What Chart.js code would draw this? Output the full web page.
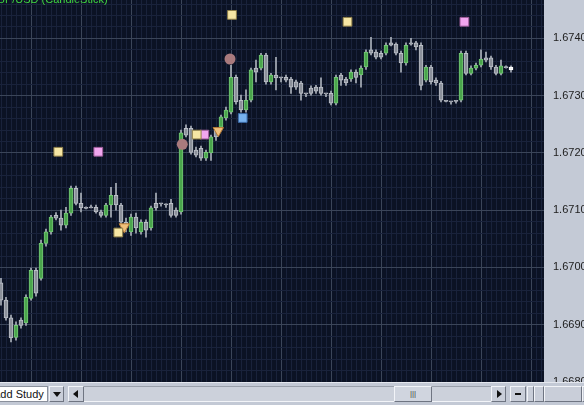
<!DOCTYPE html>
<html><head><meta charset="utf-8">
<script src="https://cdn.jsdelivr.net/npm/chart.js@4"></script>
<style>
html,body{margin:0;padding:0;width:584px;height:405px;overflow:hidden;background:#c4cad6;font-family:"Liberation Sans",Arial,sans-serif;}
#wrap{position:relative;width:584px;height:405px;overflow:hidden;}
#c{position:absolute;left:0;top:0;}
#title{position:absolute;left:-11px;top:-7px;color:#3fd43f;font-size:11px;white-space:nowrap;}
#bar{position:absolute;left:0;top:382px;width:584px;height:23px;background:#c3c9d5;border-top:1px solid #e4e7ee;box-sizing:border-box;}
#study{position:absolute;left:0;top:3px;width:48px;height:16px;background:#fff;border:1px solid #8a909c;border-left:none;box-sizing:border-box;overflow:hidden;font-size:11px;line-height:14px;color:#111;white-space:nowrap;}
#study span{position:relative;left:-7px;}
.btn{position:absolute;top:3px;height:16px;background:#c9ced9;border:1px solid;border-color:#f2f4f8 #6f7582 #6f7582 #f2f4f8;box-sizing:border-box;}
.tri{position:absolute;width:0;height:0;}
#track{position:absolute;left:84px;top:3px;width:407px;height:16px;background:#ccd1db;border-top:1px solid #9aa0ab;border-bottom:1px solid #f2f4f8;box-sizing:border-box;}
#thumb{position:absolute;left:394px;top:3px;width:38px;height:16px;background:#d0d5df;border:1px solid;border-color:#f2f4f8 #6f7582 #6f7582 #f2f4f8;box-sizing:border-box;font-size:8px;line-height:13px;text-align:center;color:#444;letter-spacing:0px;}
</style>
</head><body>
<div id="wrap">
<canvas id="c" width="584" height="405"></canvas>
<div id="title">GBP/USD (CandleStick)</div>
<div id="bar">
  <div id="study"><span>Add Study</span></div>
  <div class="btn" style="left:49px;width:15px"><div class="tri" style="left:3px;top:5px;border-left:4px solid transparent;border-right:4px solid transparent;border-top:5px solid #111;"></div></div>
  <div class="btn" style="left:68px;width:16px"><div class="tri" style="left:4px;top:3px;border-top:4px solid transparent;border-bottom:4px solid transparent;border-right:5px solid #111;"></div></div>
  <div id="track"></div>
  <div id="thumb">|||</div>
  <div class="btn" style="left:491px;width:15px"><div class="tri" style="left:5px;top:3px;border-top:4px solid transparent;border-bottom:4px solid transparent;border-left:5px solid #111;"></div></div>
  <div class="btn" style="left:510px;width:16px"><div style="position:absolute;left:4px;top:6px;width:6px;height:2px;background:#111;"></div></div>
  <div class="btn" style="left:527px;width:7px"></div>
  <div class="btn" style="left:534px;width:10px"></div>
  <div class="btn" style="left:544px;width:38px"></div>
  <div class="btn" style="left:582px;width:16px"><div style="position:absolute;left:1px;top:6px;width:6px;height:2px;background:#111;"></div></div>
</div>
</div>
<script>
// OHLC values (GBP/USD), one per candle, left to right
const opens  = [1.66973,1.66943,1.66912,1.66878,1.66908,1.66903,1.66946,1.66995,1.66981,1.67042,1.67062,1.67091,1.67086,1.67074,1.67095,1.67138,1.67112,1.67105,1.67105,1.67105,1.67097,1.67091,1.67109,1.67126,1.67109,1.67079,1.67062,1.67088,1.67062,1.67079,1.67069,1.67112,1.67112,1.67111,1.67112,1.67100,1.67097,1.67243,1.67243,1.67205,1.67208,1.67191,1.67200,1.67240,1.67245,1.67261,1.67271,1.67332,1.67292,1.67275,1.67292,1.67348,1.67348,1.67371,1.67324,1.67336,1.67332,1.67332,1.67329,1.67324,1.67322,1.67304,1.67313,1.67315,1.67315,1.67304,1.67304,1.67287,1.67336,1.67329,1.67329,1.67341,1.67336,1.67350,1.67380,1.67376,1.67374,1.67374,1.67392,1.67390,1.67374,1.67357,1.67392,1.67392,1.67388,1.67327,1.67350,1.67327,1.67322,1.67292,1.67290,1.67292,1.67292,1.67374,1.67339,1.67348,1.67353,1.67366,1.67366,1.67350,1.67339,1.67350,1.67350];
const highs  = [1.66981,1.66948,1.66917,1.66905,1.66912,1.66952,1.66999,1.66999,1.67048,1.67067,1.67091,1.67096,1.67100,1.67105,1.67142,1.67142,1.67130,1.67106,1.67109,1.67109,1.67100,1.67112,1.67140,1.67147,1.67112,1.67086,1.67093,1.67095,1.67083,1.67083,1.67107,1.67130,1.67112,1.67111,1.67119,1.67104,1.67240,1.67249,1.67247,1.67210,1.67212,1.67205,1.67231,1.67243,1.67266,1.67280,1.67353,1.67336,1.67301,1.67310,1.67348,1.67362,1.67374,1.67374,1.67339,1.67367,1.67332,1.67336,1.67332,1.67327,1.67325,1.67304,1.67317,1.67318,1.67331,1.67304,1.67308,1.67336,1.67339,1.67332,1.67345,1.67345,1.67352,1.67380,1.67402,1.67380,1.67378,1.67392,1.67402,1.67392,1.67378,1.67392,1.67400,1.67395,1.67392,1.67353,1.67353,1.67331,1.67325,1.67292,1.67290,1.67292,1.67378,1.67378,1.67352,1.67357,1.67380,1.67376,1.67369,1.67353,1.67362,1.67352,1.67352];
const lows   = [1.66934,1.66908,1.66870,1.66873,1.66894,1.66899,1.66943,1.66950,1.66978,1.67037,1.67058,1.67083,1.67065,1.67069,1.67091,1.67109,1.67097,1.67102,1.67104,1.67095,1.67088,1.67088,1.67088,1.67100,1.67074,1.67062,1.67056,1.67060,1.67058,1.67053,1.67065,1.67100,1.67107,1.67105,1.67088,1.67088,1.67093,1.67228,1.67198,1.67193,1.67187,1.67187,1.67187,1.67222,1.67240,1.67257,1.67268,1.67285,1.67271,1.67271,1.67289,1.67324,1.67345,1.67320,1.67320,1.67310,1.67324,1.67324,1.67304,1.67311,1.67292,1.67298,1.67301,1.67304,1.67301,1.67298,1.67284,1.67284,1.67318,1.67318,1.67325,1.67322,1.67315,1.67346,1.67371,1.67364,1.67364,1.67371,1.67387,1.67371,1.67341,1.67353,1.67388,1.67380,1.67310,1.67324,1.67320,1.67318,1.67289,1.67289,1.67285,1.67287,1.67289,1.67336,1.67336,1.67345,1.67350,1.67359,1.67346,1.67336,1.67336,1.67348,1.67341];
const closes = [1.66943,1.66912,1.66877,1.66899,1.66899,1.66948,1.66995,1.66955,1.67042,1.67062,1.67088,1.67086,1.67074,1.67095,1.67138,1.67112,1.67104,1.67103,1.67104,1.67097,1.67091,1.67109,1.67126,1.67109,1.67079,1.67069,1.67088,1.67069,1.67079,1.67065,1.67104,1.67104,1.67111,1.67109,1.67091,1.67091,1.67235,1.67231,1.67201,1.67196,1.67191,1.67201,1.67228,1.67228,1.67263,1.67275,1.67332,1.67289,1.67275,1.67292,1.67345,1.67341,1.67371,1.67324,1.67336,1.67331,1.67331,1.67327,1.67315,1.67315,1.67304,1.67303,1.67304,1.67308,1.67304,1.67303,1.67287,1.67332,1.67327,1.67322,1.67341,1.67332,1.67348,1.67376,1.67374,1.67367,1.67367,1.67388,1.67388,1.67374,1.67357,1.67388,1.67390,1.67385,1.67318,1.67350,1.67324,1.67322,1.67292,1.67290,1.67289,1.67290,1.67374,1.67339,1.67348,1.67353,1.67364,1.67362,1.67350,1.67339,1.67352,1.67349,1.67345];

// study markers: [candle position, price]
const yellowMarks   = [[11.46,1.67202],[23.46,1.67061],[39.14,1.67232],[46.2,1.67441],[69.3,1.67429]];
const pinkMarks     = [[19.46,1.67202],[40.66,1.67232],[92.68,1.67429]];
const blueMarks     = [[48.34,1.67261]];
const circleMarks   = [[36.26,1.67215],[45.8,1.67364]];
const triangleMarks = [[24.66,1.67071],[43.46,1.67239]];

// axis ranges and tick spacing
const priceMin = 1.6680, priceMax = 1.67467, priceStep = 0.0001, priceLabelStep = 0.0010;
const slotMin = -0.2, slotMax = 108.6;

const lastIdx = closes.length - 1;
const toPts = arr => arr.map(([x, y]) => ({x, y}));

const bgPlugin = {
  id: 'bg',
  beforeDraw(chart) {
    const {ctx, chartArea: a, width, height} = chart;
    ctx.save();
    ctx.fillStyle = '#c4cad6';
    ctx.fillRect(0, 0, width, height);
    ctx.fillStyle = '#0b1224';
    ctx.fillRect(a.left, a.top, a.right - a.left, a.bottom - a.top);
    ctx.restore();
  }
};

const bodyFill = c => c.dataIndex === lastIdx ? '#eeeeee' : (closes[c.dataIndex] >= opens[c.dataIndex] ? '#4aa54c' : '#8c919b');
const bodyEdge = c => c.dataIndex === lastIdx ? '#ffffff' : (closes[c.dataIndex] >= opens[c.dataIndex] ? '#76c877' : '#bcc0c8');

const xGridColor = c => {
  if (!c || !c.tick) return 'rgba(0,0,0,0)';
  return Math.round(c.tick.value - 0.5) % 10 === 6 ? '#3b4559' : '#19223b';
};
const yGridColor = c => {
  if (!c || !c.tick) return 'rgba(0,0,0,0)';
  const i = Math.round((c.tick.value - priceMin) / priceStep);
  return i % 10 === 0 ? '#3b4559' : (i % 2 === 0 ? '#19223b' : 'rgba(0,0,0,0)');
};

new Chart(document.getElementById('c'), {
  type: 'bar',
  data: {
    datasets: [
      {type:'scatter', data: toPts(circleMarks), pointStyle:'circle', pointRadius:5.5, backgroundColor:'#a97a7d', borderColor:'#a97a7d', borderWidth:0, order:0},
      {type:'scatter', data: toPts(yellowMarks), pointStyle:'rect', pointRadius:6.2, backgroundColor:'#f6e6a4', borderColor:'#8f7f48', borderWidth:1, order:0},
      {type:'scatter', data: toPts(pinkMarks), pointStyle:'rect', pointRadius:6.2, backgroundColor:'#f1a6ef', borderColor:'#9c5c98', borderWidth:1, order:0},
      {type:'scatter', data: toPts(blueMarks), pointStyle:'rect', pointRadius:6.2, backgroundColor:'#78b2ee', borderColor:'#3b6aa6', borderWidth:1, order:0},
      {type:'scatter', data: toPts(triangleMarks), pointStyle:'triangle', rotation:180, pointRadius:6, backgroundColor:'#f1c07c', borderColor:'#b97d35', borderWidth:1, order:0},
      {label:'body', data: opens.map((o, i) => ({x:i, y:[o, closes[i]]})), backgroundColor: bodyFill, borderColor: bodyEdge, borderWidth:1, borderSkipped:false, barThickness:4, grouped:false, minBarLength:1, order:5},
      {label:'wick', data: lows.map((l, i) => ({x:i, y:[l, highs[i]]})), backgroundColor:'#aab0b9', borderWidth:0, barThickness:1, grouped:false, minBarLength:1, order:6}
    ]
  },
  options: {
    responsive:false, animation:false, devicePixelRatio:1,
    layout:{autoPadding:false, padding:{left:0, right:0, top:0, bottom:23}},
    plugins:{legend:{display:false}, tooltip:{enabled:false}, title:{display:false}},
    scales:{
      x:{
        type:'linear', min:slotMin, max:slotMax, offset:false,
        afterBuildTicks(s){ const t=[]; for(let k=-1;k<=108;k++) t.push({value:k+0.5}); s.ticks=t; },
        grid:{drawTicks:false, lineWidth:1, color: xGridColor},
        border:{display:false, color:'rgba(0,0,0,0)'}, ticks:{display:false, autoSkip:false},
        afterFit(s){ s.height=0; s.paddingLeft=0; s.paddingRight=0; }
      },
      y:{
        type:'linear', position:'right', min:priceMin, max:priceMax,
        afterBuildTicks(s){ const t=[]; const n=Math.round((priceMax-priceMin)/priceStep); for(let i=0;i<=n;i++) t.push({value: priceMin + i*priceStep}); s.ticks=t; },
        grid:{drawTicks:false, lineWidth:1, color: yGridColor},
        border:{display:false, color:'rgba(0,0,0,0)'},
        ticks:{autoSkip:false, padding:9, color:'#202020', font:{family:'"Liberation Sans", Arial, sans-serif', size:11},
          callback: v => (Math.round((v-priceMin)/priceStep) % Math.round(priceLabelStep/priceStep) === 0 ? v.toFixed(4) : '')},
        afterFit(s){ s.width=40; s.paddingTop=0; s.paddingBottom=0; }
      }
    }
  },
  plugins:[bgPlugin]
});
</script>
</body></html>
